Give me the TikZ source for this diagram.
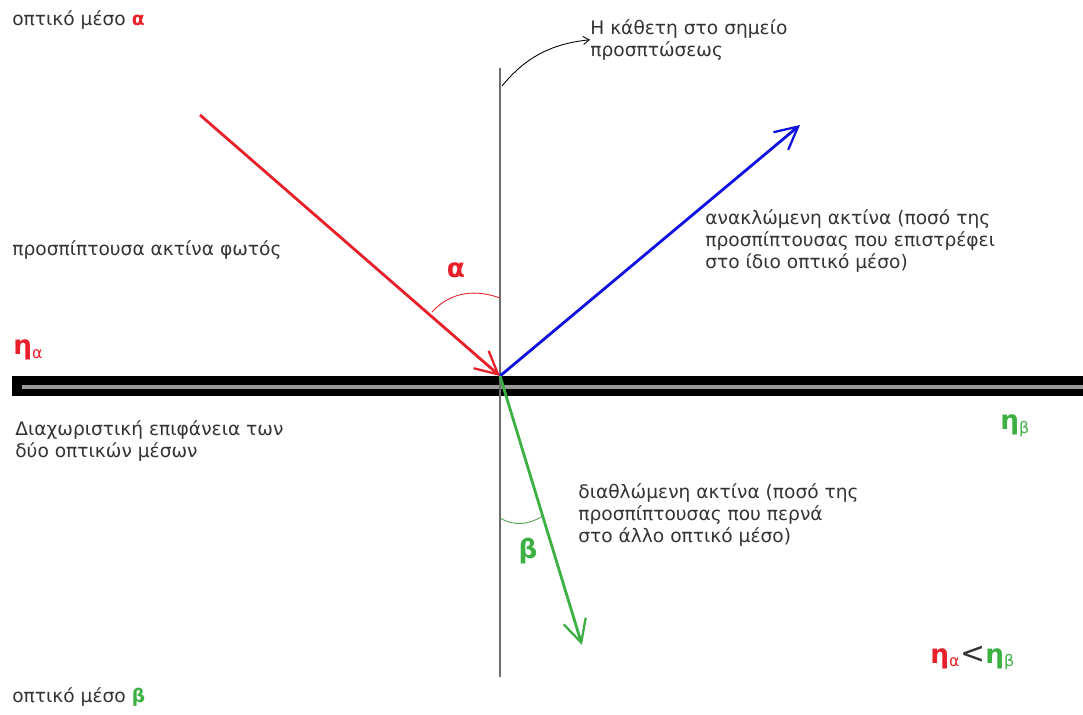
\documentclass[tikz,border=0pt]{standalone}
\usepackage{fontspec}
\setmainfont{DejaVu Sans}
\usetikzlibrary{arrows.meta}

\definecolor{txtgray}{HTML}{333333}
\definecolor{rayred}{HTML}{E8202A}
\definecolor{rayblue}{HTML}{1010E0}
\definecolor{raygreen}{HTML}{3CB043}

\begin{document}
\begin{tikzpicture}[
    x=0.02cm, y=-0.02cm,
    font=\fontsize{10.6}{12.5}\selectfont,
    txt/.style={text=txtgray, align=left, anchor=north west, inner sep=0pt},
    ray/.style={line width=1.6pt, -{Straight Barb[length=4.5mm, width=4.6mm, line width=1.3pt]}},
    angarc/.style={line width=0.5pt},
    idx/.style={font=\fontsize{15}{15}\selectfont\bfseries, inner sep=0pt}
]
    \useasboundingbox (0,0) rectangle (1083,715);

    % Σημεία
    \coordinate (hit) at (500,376);
    \coordinate (src) at (200,115);
    \coordinate (refl) at (800,125);
    \coordinate (refr) at (582,645);
    \coordinate (ntop) at (500,68);
    \coordinate (nbot) at (500,677);

    % Διαχωριστική επιφάνεια
    \fill[black] (12,376) rectangle (1083,396);
    \draw[gray!80, line width=2.4pt] (22,387) -- (1083,387);

    % Κάθετη
    \draw[gray!85!black, line width=1.5pt] (ntop) -- (nbot);

    % Ακτίνες
    \draw[ray, rayred] (src) -- (hit);
    \draw[ray, rayblue] (hit) -- (refl);
    \draw[ray, raygreen] (hit) -- (refr);

    % Γωνίες
    \draw[angarc, rayred] (432,312) .. controls (452,290) and (478,290) .. (500,298);
    \draw[angarc, raygreen!70!gray] (500,518) .. controls (515,527) and (530,524) .. (543,516);
    \node[idx, rayred] (alpha) at (456,270) {α};
    \node[idx, raygreen] (beta) at (528,551) {β};

    % Ετικέτες
    \node[txt] (mesoA) at (12,10) {οπτικό μέσο \textcolor{rayred}{\textbf{α}}};
    \node[txt] (mesoB) at (12,687) {οπτικό μέσο \textcolor{raygreen}{\textbf{β}}};
    \node[txt] (kath) at (590,19) {Η κάθετη στο σημείο\\προσπτώσεως};
    \node[txt] (prosp) at (12,240) {προσπίπτουσα ακτίνα φωτός};
    \node[txt] (diax) at (15,420) {Διαχωριστική επιφάνεια των\\δύο οπτικών μέσων};
    \node[txt] (anakl) at (705,209) {ανακλώμενη ακτίνα (ποσό της\\προσπίπτουσας που επιστρέφει\\στο ίδιο οπτικό μέσο)};
    \node[txt] (diath) at (578,483) {διαθλώμενη ακτίνα (ποσό της\\προσπίπτουσας που περνά\\στο άλλο οπτικό μέσο)};

    % Δείκτες διάθλασης
    \node[idx, rayred, anchor=west] (nA) at (13,350) {η\textsubscript{\fontsize{9}{9}\selectfont\mdseries α}};
    \node[idx, raygreen, anchor=west] (nB) at (1000,426) {η\textsubscript{\fontsize{9}{9}\selectfont\mdseries β}};
    \node[idx, anchor=west] (ineq) at (930,658) {\textcolor{rayred}{η\textsubscript{\fontsize{9}{9}\selectfont\mdseries α}}\textcolor{txtgray}{\fontsize{17}{17}\selectfont\mdseries<}\textcolor{raygreen}{η\textsubscript{\fontsize{9}{9}\selectfont\mdseries β}}};

    % Βέλος σημείωσης της κάθετης
    \coordinate (knot) at (502,86);
    \draw[black, line width=0.5pt, -{Straight Barb[length=1.2mm, width=1.6mm]}] (knot) .. controls (525,58) and (550,44) .. (kath.west);
\end{tikzpicture}
\end{document}
